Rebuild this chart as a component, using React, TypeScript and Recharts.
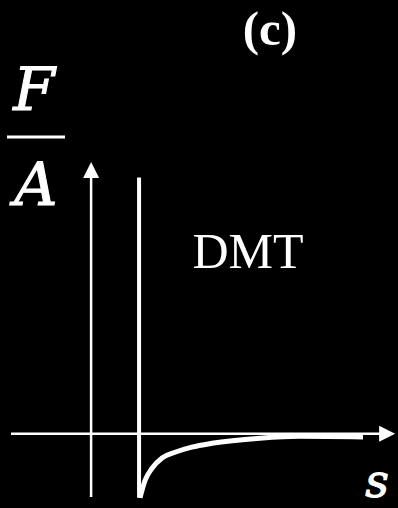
import { ComposedChart, Line, XAxis, YAxis, ReferenceLine, ReferenceDot } from "recharts";

// separation s (arbitrary units), force per area F/A
const curveS = [1.02, 1.125, 1.27, 1.48, 1.75, 2.1, 2.52, 3.52, 4.35, 5.67];
const curveF = [-1.0, -0.73, -0.54, -0.38, -0.29, -0.21, -0.15, -0.07, -0.04, -0.05];

// contact wall at s = 1
const WALL_S = 1;
const WALL_F: [number, number] = [-1.0, 4.0];

const S_DOMAIN: [number, number] = [-1.9, 6.4];
const F_DOMAIN: [number, number] = [-1.16, 6.77];

const curveData = curveS.map((s, i) => ({ s, f: curveF[i] }));

const WHITE = "#ffffff";
const SERIF = "'DejaVu Serif', 'Liberation Serif', serif";

const ArrowRight = (props: any) => {
  const { cx, cy } = props;
  return <polygon points={`${cx},${cy} ${cx - 16},${cy - 8} ${cx - 16},${cy + 8}`} fill={WHITE} />;
};

const ArrowUp = (props: any) => {
  const { cx, cy } = props;
  return <polygon points={`${cx},${cy} ${cx - 8},${cy + 16} ${cx + 8},${cy + 16}`} fill={WHITE} />;
};

export default function App() {
  return (
    <div style={{ position: "fixed", left: 0, top: 0, width: 398, height: 508, background: "#000" }}>
      <ComposedChart width={398} height={508} margin={{ top: 0, right: 0, bottom: 0, left: 0 }}>
        <XAxis type="number" dataKey="s" domain={S_DOMAIN} allowDataOverflow hide />
        <YAxis type="number" domain={F_DOMAIN} allowDataOverflow hide />

        {/* axes */}
        <ReferenceLine
          segment={[{ x: -1.67, y: 0 }, { x: 6.05, y: 0 }]}
          stroke={WHITE}
          strokeWidth={2.5}
          ifOverflow="visible"
        />
        <ReferenceLine
          segment={[{ x: 0, y: -0.99 }, { x: 0, y: 4.0 }]}
          stroke={WHITE}
          strokeWidth={2.5}
          ifOverflow="visible"
        />
        <ReferenceDot x={6.34} y={0} shape={ArrowRight} ifOverflow="visible" />
        <ReferenceDot x={0} y={4.24} shape={ArrowUp} ifOverflow="visible" />

        {/* hard wall */}
        <ReferenceLine
          segment={[{ x: WALL_S, y: WALL_F[0] }, { x: WALL_S, y: WALL_F[1] }]}
          stroke={WHITE}
          strokeWidth={4}
          ifOverflow="visible"
        />

        <Line
          data={curveData}
          dataKey="f"
          type="monotone"
          stroke={WHITE}
          strokeWidth={5}
          strokeLinecap="butt"
          dot={false}
          activeDot={false}
          isAnimationActive={false}
        />

        <text x={270} y={45} textAnchor="middle" fill={WHITE} fontFamily="Liberation Serif" fontWeight="bold" fontSize={49}>
          (c)
        </text>
        <text x={248} y={268} textAnchor="middle" fill={WHITE} fontFamily="Liberation Serif" fontSize={50}>
          DMT
        </text>
        <text x={34} y={110} textAnchor="middle" fill={WHITE} fontFamily={SERIF} fontStyle="italic" fontSize={60} stroke={WHITE} strokeWidth={1}>
          F
        </text>
        <line x1={7} x2={65} y1={137} y2={137} stroke={WHITE} strokeWidth={3} />
        <text x={36} y={205} textAnchor="middle" fill={WHITE} fontFamily={SERIF} fontStyle="italic" fontSize={60} stroke={WHITE} strokeWidth={1}>
          A
        </text>
        <text x={377} y={497} textAnchor="middle" fill={WHITE} fontFamily={SERIF} fontStyle="italic" fontSize={46} stroke={WHITE} strokeWidth={1}>
          s
        </text>
      </ComposedChart>
    </div>
  );
}
